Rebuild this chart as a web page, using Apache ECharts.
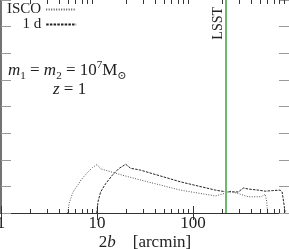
<!DOCTYPE html>
<html><head><meta charset="utf-8">
<script src="https://cdn.jsdelivr.net/npm/echarts@6/dist/echarts.min.js"></script>
<style>html,body{margin:0;padding:0;background:#fff}#c{width:289px;height:249px}</style>
</head><body><div id="c"></div>
<script>
// ISCO curve (dotted)
const iscoX = [4.96, 5.12, 5.3, 5.55, 5.8, 6.5, 6.8, 7.95, 9.0, 10.0, 10.9, 17.6, 26.3, 74, 171, 202, 245, 296, 376, 513, 565, 583, 600];
const iscoY = [0, 0.36, 0.52, 0.74, 0.86, 1.12, 1.24, 1.52, 1.71, 1.82, 1.66, 1.44, 1.27, 0.86, 0.64, 0.71, 0.81, 0.73, 0.61, 0.61, 0.70, 0.49, 0];
// 1 d curve (dashed)
const dayX = [9.95, 10.24, 10.9, 12.3, 14.45, 16.9, 19.9, 22.4, 28.4, 74, 171, 217, 296, 336, 376, 478, 565, 668, 808, 848, 889, 911];
const dayY = [0, 0.42, 0.79, 1.1, 1.42, 1.67, 1.83, 1.68, 1.61, 1.17, 0.86, 0.8, 0.79, 0.94, 0.9, 0.86, 0.82, 0.84, 0.86, 0.79, 0.3, 0];
const xTickLabels = ['1', '10', '100'];
const minorTicks = [2,3,4,5,6,7,8,9,20,30,40,50,60,70,80,90,200,300,400,500,600,700,800,900];
const lsstX = 217;
const seriesNames = ['ISCO', '1 d'];

const serif = '"Liberation Serif", "DejaVu Serif", serif';
const yMax = 8;
const minorLen = 0.15;

const tickStyle = {color: '#333', width: 1, type: 'solid'};
const markData = [];
minorTicks.forEach(function (v) {
  markData.push([{coord: [v, 0], lineStyle: tickStyle, label: {show: false}}, {coord: [v, minorLen]}]);
  markData.push([{coord: [v, yMax], lineStyle: tickStyle, label: {show: false}}, {coord: [v, yMax - minorLen]}]);
});
markData.push({
  xAxis: lsstX,
  lineStyle: {color: '#6cbb6c', width: 2, type: 'solid'},
  label: {show: true, formatter: 'LSST', position: 'insideEndTop', fontFamily: serif, fontSize: 14, color: '#222', distance: [7, 0]}
});

function pairs(xs, ys) { return xs.map(function (x, i) { return [x, ys[i]]; }); }

const txt = {fontFamily: serif, fontWeight: 'normal', color: '#222'};

const chart = echarts.init(document.getElementById('c'), null, {renderer: 'canvas'});
chart.setOption({
  animation: false,
  backgroundColor: '#fff',
  grid: {left: 1, right: 0, top: 0, bottom: 36, containLabel: false, outerBoundsMode: 'none'},
  xAxis: [{
    type: 'log', logBase: 10, min: 1, max: 1000, position: 'bottom',
    axisLine: {show: true, lineStyle: {color: '#333', width: 1}},
    axisTick: {show: true, inside: true, length: 7, lineStyle: {color: '#333'}},
    minorTick: {show: false},
    splitLine: {show: false},
    axisLabel: {
      show: true, margin: 2, fontFamily: serif, fontSize: 17, color: '#222',
      formatter: function (v) { const s = String(Math.round(v)); return xTickLabels.indexOf(s) >= 0 ? s : ''; }
    },
    name: '2{i|b}    [arcmin]', nameLocation: 'middle', nameGap: 21, nameMoveOverlap: false,
    nameTextStyle: {fontFamily: serif, fontSize: 17, color: '#222',
      rich: {i: {fontFamily: serif, fontStyle: 'italic', fontSize: 17, color: '#222'}}}
  }, {
    type: 'log', logBase: 10, min: 1, max: 1000, position: 'top',
    axisLine: {show: true, lineStyle: {color: '#333', width: 1}},
    axisTick: {show: true, inside: true, length: 7, lineStyle: {color: '#333'}},
    axisLabel: {show: false}, splitLine: {show: false}
  }],
  yAxis: [{
    type: 'value', min: 0, max: yMax, interval: 1, position: 'left',
    axisLine: {show: true, lineStyle: {color: '#444', width: 1.5}},
    axisTick: {show: true, inside: true, length: 10, lineStyle: {color: '#999'}},
    axisLabel: {show: false}, splitLine: {show: false}
  }, {
    type: 'value', min: 0, max: yMax, interval: 1, position: 'right',
    axisLine: {show: true, lineStyle: {color: '#444', width: 1}},
    axisTick: {show: true, inside: true, length: 10, lineStyle: {color: '#999'}},
    axisLabel: {show: false}, splitLine: {show: false}
  }],
  legend: {
    show: true, orient: 'vertical', align: 'right', left: 7, top: 2, bottom: null,
    itemWidth: 30, itemHeight: 10, itemGap: 0, padding: 0,
    itemStyle: {opacity: 0},
    textStyle: {fontFamily: serif, fontSize: 15, color: '#222', lineHeight: 13},
    data: seriesNames
  },
  title: [{
    text: '{i|m}{sb|1}{n| = }{i|m}{sb|2}{n| = 10}{sp|7}{n|M}{sb|⊙}',
    left: 8, top: 60, padding: 0,
    textStyle: {fontWeight: 'normal', rich: {
      i: Object.assign({}, txt, {fontStyle: 'italic', fontSize: 17, lineHeight: 22}),
      n: Object.assign({}, txt, {fontSize: 17, lineHeight: 22}),
      sb: Object.assign({}, txt, {fontSize: 11, verticalAlign: 'bottom', lineHeight: 13}),
      sp: Object.assign({}, txt, {fontSize: 11, verticalAlign: 'top', lineHeight: 13})
    }}
  }, {
    text: '{i|z}{n| = 1}',
    left: 53, top: 80, padding: 0,
    textStyle: {fontWeight: 'normal', rich: {
      i: Object.assign({}, txt, {fontStyle: 'italic', fontSize: 17, lineHeight: 20}),
      n: Object.assign({}, txt, {fontSize: 17, lineHeight: 20})
    }}
  }],
  series: [{
    name: seriesNames[0], type: 'line', xAxisIndex: 0, yAxisIndex: 0,
    data: pairs(iscoX, iscoY), showSymbol: false, symbol: 'none', smooth: false,
    lineStyle: {color: '#555', width: 1, type: [1, 1.5]},
    itemStyle: {color: '#555'},
    markLine: {silent: true, symbol: ['none', 'none'], animation: false, data: markData}
  }, {
    name: seriesNames[1], type: 'line', xAxisIndex: 0, yAxisIndex: 0,
    data: pairs(dayX, dayY), showSymbol: false, symbol: 'none', smooth: false,
    lineStyle: {color: '#222', width: 1, type: [2.5, 1.2]},
    itemStyle: {color: '#222'}
  }]
});
</script>
</body></html>
